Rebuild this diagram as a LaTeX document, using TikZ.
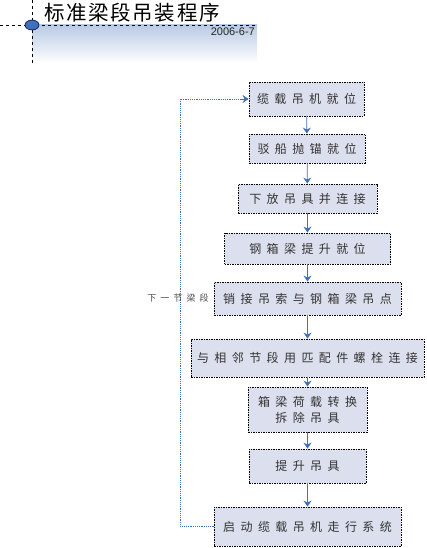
\documentclass[tikz,border=0pt]{standalone}
\usepackage{fontspec}
\setmainfont{Liberation Sans}
\newfontfamily\cjk[LetterSpace=45]{Noto Sans CJK SC}
\newfontfamily\cjktitle[LetterSpace=8]{Noto Sans CJK SC}
\newfontfamily\cjksmall[LetterSpace=45]{Noto Sans CJK SC}
\usetikzlibrary{arrows.meta,shapes.geometric}
\definecolor{boxfill}{HTML}{DCDFEE}
\definecolor{arrowblue}{HTML}{3F70B8}
\definecolor{headblue}{HTML}{B8CAE4}
\tikzset{
  stepbox/.style={draw=black, fill=boxfill, line width=0.8pt, dash pattern=on 1.5pt off 1pt,
    inner sep=0pt, font=\cjk\fontsize{12}{15}\selectfont, text=black!80, align=center},
  flow/.style={draw=arrowblue, line width=0.8pt, -{Stealth[length=6pt,width=8pt]}},
  loopline/.style={draw=arrowblue, line width=0.9pt, dash pattern=on 1.2pt off 1pt},
}
\begin{document}
\begin{tikzpicture}[x=1pt,y=-1pt]
\useasboundingbox (0,0) rectangle (427,548);
% header
\shade[top color=headblue, bottom color=white] (32,25) rectangle (257,63);
\draw[dashed, line width=0.6pt] (0,25) -- (257,25);
\draw[dashed, line width=0.6pt] (32,0) -- (32,63);
\node[draw=black!70!blue, fill=arrowblue, ellipse, minimum width=14pt, minimum height=10pt, inner sep=0pt, line width=0.6pt] (dot) at (32,25) {};
\node[anchor=west, font=\cjktitle\fontsize{20.5}{22}\selectfont, inner sep=0pt] (title) at (44,12.5) {标准梁段吊装程序};
\node[anchor=east, font=\fontsize{11}{12}\selectfont, inner sep=0pt, text=black!85] (date) at (255,32) {2006-6-7};
% boxes
\node[stepbox, minimum width=115pt, minimum height=34pt] (b1) at (306.5,99) {缆载吊机就位};
\node[stepbox, minimum width=116pt, minimum height=29pt] (b2) at (307,148.5) {驳船抛锚就位};
\node[stepbox, minimum width=139pt, minimum height=29pt] (b3) at (307.5,198.5) {下放吊具并连接};
\node[stepbox, minimum width=166pt, minimum height=31pt] (b4) at (307.5,248.5) {钢箱梁提升就位};
\node[stepbox, minimum width=187pt, minimum height=33pt] (b5) at (307.5,298.5) {销接吊索与钢箱梁吊点};
\node[stepbox, minimum width=233pt, minimum height=38pt] (b6) at (307.5,358) {与相邻节段用匹配件螺栓连接};
\node[stepbox, minimum width=119pt, minimum height=45pt, font=\cjk\fontsize{12}{16}\selectfont] (b7) at (307.5,409.5) {箱梁荷载转换\\拆除吊具};
\node[stepbox, minimum width=117pt, minimum height=34pt] (b8) at (307.5,466) {提升吊具};
\node[stepbox, minimum width=187pt, minimum height=39pt] (b9) at (307.5,526.5) {启动缆载吊机走行系统};
% arrows
\draw[flow] (b1) -- (b2);
\draw[flow] (b2) -- (b3);
\draw[flow] (b3) -- (b4);
\draw[flow] (b4) -- (b5);
\draw[flow] (b5) -- (b6);
\draw[flow] (b6) -- (b7);
\draw[flow] (b7) -- (b8);
\draw[flow] (b8) -- (b9);
% loop back
\coordinate (lb) at (180,526.5);
\coordinate (lt) at (180,99);
\draw[loopline] (b9.west) -- (lb) -- (lt) -- (b1.west);
\draw[draw=arrowblue, line width=0.8pt, -{Stealth[length=6pt,width=8pt]}] ([xshift=-8pt]b1.west) -- (b1.west);
\node[font=\cjksmall\fontsize{9}{10}\selectfont, text=black!70, inner sep=0pt] (lab) at (178,298) {下一节梁段};
\end{tikzpicture}
\end{document}
